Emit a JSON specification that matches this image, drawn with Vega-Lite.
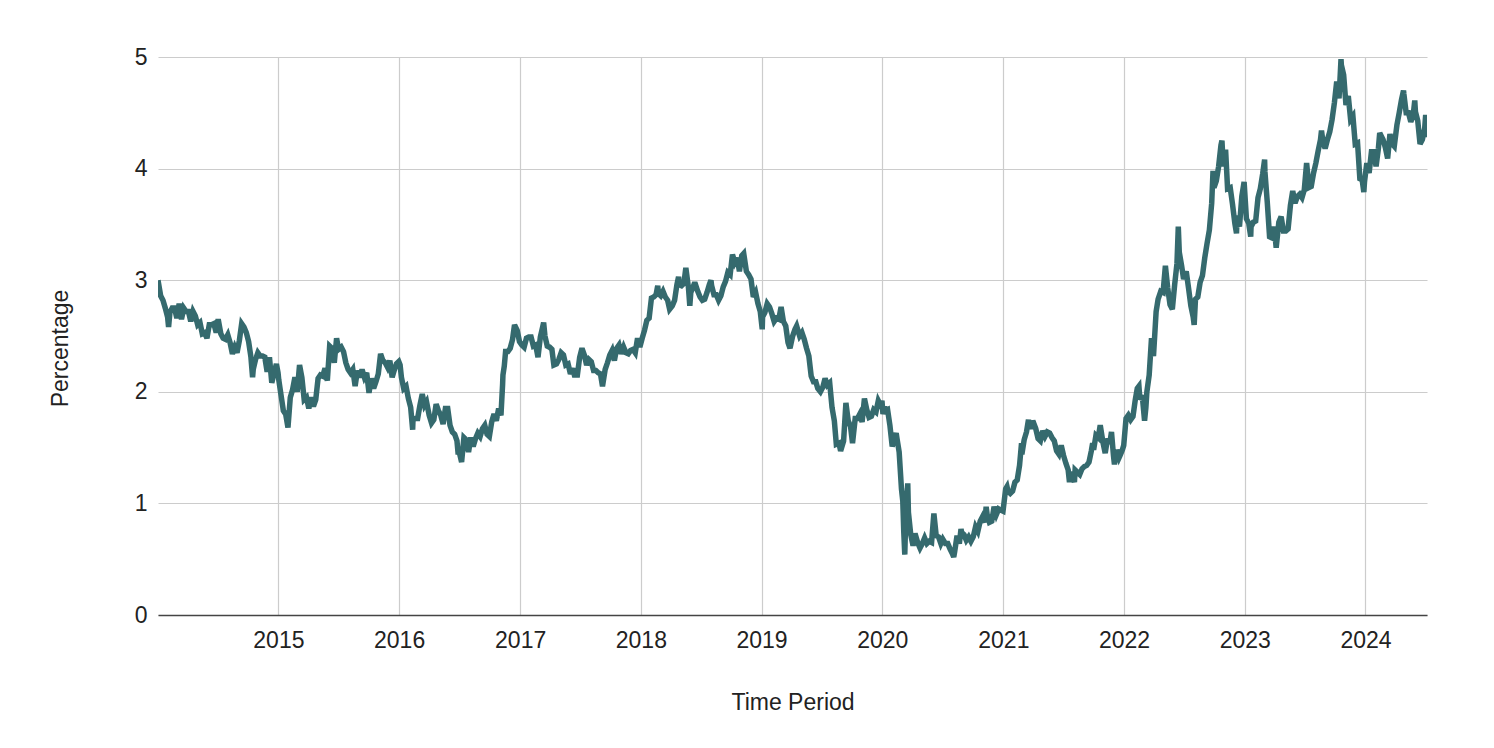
{
  "$schema": "https://vega.github.io/schema/vega-lite/v6.json",
  "width": 1269,
  "height": 558,
  "autosize": {"type": "none"},
  "padding": {"left": 158, "top": 57, "right": 67, "bottom": 133},
  "background": "#ffffff",
  "config": {
    "view": {"stroke": null},
    "font": "Liberation Sans",
    "axis": {"labelFont": "Liberation Sans", "titleFont": "Liberation Sans", "labelColor": "#222222", "titleColor": "#222222", "titleFontWeight": "normal"}
  },
  "data": {"values": [
{"d":"2014-01-02","v":3.00},{"d":"2014-01-10","v":2.86},{"d":"2014-01-17","v":2.82},{"d":"2014-01-24","v":2.75},{"d":"2014-01-31","v":2.67},{"d":"2014-02-03","v":2.58},{"d":"2014-02-07","v":2.71},{"d":"2014-02-14","v":2.75},{"d":"2014-02-21","v":2.75},{"d":"2014-02-28","v":2.66},{"d":"2014-03-07","v":2.79},{"d":"2014-03-14","v":2.65},{"d":"2014-03-21","v":2.75},{"d":"2014-03-28","v":2.72},{"d":"2014-04-04","v":2.72},{"d":"2014-04-11","v":2.63},{"d":"2014-04-18","v":2.72},{"d":"2014-04-25","v":2.68},{"d":"2014-05-02","v":2.60},{"d":"2014-05-09","v":2.62},{"d":"2014-05-16","v":2.52},{"d":"2014-05-23","v":2.53},{"d":"2014-05-30","v":2.48},{"d":"2014-06-06","v":2.60},{"d":"2014-06-13","v":2.60},{"d":"2014-06-20","v":2.61},{"d":"2014-06-27","v":2.53},{"d":"2014-07-03","v":2.65},{"d":"2014-07-11","v":2.52},{"d":"2014-07-18","v":2.48},{"d":"2014-07-25","v":2.47},{"d":"2014-08-01","v":2.51},{"d":"2014-08-08","v":2.44},{"d":"2014-08-15","v":2.34},{"d":"2014-08-22","v":2.40},{"d":"2014-08-29","v":2.35},{"d":"2014-09-05","v":2.46},{"d":"2014-09-12","v":2.61},{"d":"2014-09-19","v":2.58},{"d":"2014-09-26","v":2.53},{"d":"2014-10-03","v":2.45},{"d":"2014-10-10","v":2.31},{"d":"2014-10-15","v":2.13},{"d":"2014-10-17","v":2.20},{"d":"2014-10-24","v":2.29},{"d":"2014-10-31","v":2.35},{"d":"2014-11-07","v":2.32},{"d":"2014-11-14","v":2.32},{"d":"2014-11-21","v":2.31},{"d":"2014-11-28","v":2.18},{"d":"2014-12-05","v":2.31},{"d":"2014-12-12","v":2.08},{"d":"2014-12-19","v":2.17},{"d":"2014-12-26","v":2.25},{"d":"2014-12-31","v":2.17},
{"d":"2015-01-02","v":2.11},{"d":"2015-01-09","v":1.97},{"d":"2015-01-16","v":1.83},{"d":"2015-01-23","v":1.80},{"d":"2015-01-30","v":1.68},{"d":"2015-02-06","v":1.95},{"d":"2015-02-13","v":2.02},{"d":"2015-02-20","v":2.13},{"d":"2015-02-27","v":2.00},{"d":"2015-03-06","v":2.24},{"d":"2015-03-13","v":2.13},{"d":"2015-03-20","v":1.93},{"d":"2015-03-27","v":1.95},{"d":"2015-04-03","v":1.85},{"d":"2015-04-10","v":1.95},{"d":"2015-04-17","v":1.87},{"d":"2015-04-24","v":1.93},{"d":"2015-05-01","v":2.12},{"d":"2015-05-08","v":2.15},{"d":"2015-05-15","v":2.14},{"d":"2015-05-22","v":2.21},{"d":"2015-05-29","v":2.10},{"d":"2015-06-05","v":2.41},{"d":"2015-06-12","v":2.39},{"d":"2015-06-19","v":2.26},{"d":"2015-06-26","v":2.48},{"d":"2015-07-02","v":2.38},{"d":"2015-07-10","v":2.40},{"d":"2015-07-17","v":2.36},{"d":"2015-07-24","v":2.26},{"d":"2015-07-31","v":2.20},{"d":"2015-08-07","v":2.17},{"d":"2015-08-14","v":2.20},{"d":"2015-08-21","v":2.05},{"d":"2015-08-28","v":2.19},{"d":"2015-09-04","v":2.13},{"d":"2015-09-11","v":2.20},{"d":"2015-09-18","v":2.13},{"d":"2015-09-25","v":2.17},{"d":"2015-10-02","v":1.99},{"d":"2015-10-09","v":2.12},{"d":"2015-10-16","v":2.03},{"d":"2015-10-23","v":2.09},{"d":"2015-10-30","v":2.16},{"d":"2015-11-06","v":2.34},{"d":"2015-11-13","v":2.28},{"d":"2015-11-20","v":2.26},{"d":"2015-11-27","v":2.22},{"d":"2015-12-04","v":2.28},{"d":"2015-12-11","v":2.13},{"d":"2015-12-18","v":2.20},{"d":"2015-12-24","v":2.25},{"d":"2015-12-31","v":2.27},
{"d":"2016-01-04","v":2.24},{"d":"2016-01-08","v":2.13},{"d":"2016-01-15","v":2.03},{"d":"2016-01-22","v":2.05},{"d":"2016-01-29","v":1.94},{"d":"2016-02-05","v":1.86},{"d":"2016-02-11","v":1.66},{"d":"2016-02-12","v":1.75},{"d":"2016-02-19","v":1.76},{"d":"2016-02-26","v":1.76},{"d":"2016-03-04","v":1.88},{"d":"2016-03-11","v":1.98},{"d":"2016-03-18","v":1.88},{"d":"2016-03-24","v":1.91},{"d":"2016-04-01","v":1.79},{"d":"2016-04-08","v":1.72},{"d":"2016-04-15","v":1.75},{"d":"2016-04-22","v":1.89},{"d":"2016-04-29","v":1.83},{"d":"2016-05-06","v":1.79},{"d":"2016-05-13","v":1.71},{"d":"2016-05-20","v":1.85},{"d":"2016-05-27","v":1.85},{"d":"2016-06-03","v":1.70},{"d":"2016-06-10","v":1.64},{"d":"2016-06-17","v":1.62},{"d":"2016-06-24","v":1.56},{"d":"2016-06-27","v":1.46},{"d":"2016-07-01","v":1.46},{"d":"2016-07-08","v":1.37},{"d":"2016-07-15","v":1.59},{"d":"2016-07-22","v":1.57},{"d":"2016-07-29","v":1.46},{"d":"2016-08-05","v":1.59},{"d":"2016-08-12","v":1.51},{"d":"2016-08-19","v":1.58},{"d":"2016-08-26","v":1.63},{"d":"2016-09-02","v":1.60},{"d":"2016-09-09","v":1.67},{"d":"2016-09-16","v":1.70},{"d":"2016-09-23","v":1.62},{"d":"2016-09-30","v":1.60},{"d":"2016-10-07","v":1.73},{"d":"2016-10-14","v":1.80},{"d":"2016-10-21","v":1.74},{"d":"2016-10-28","v":1.85},{"d":"2016-11-04","v":1.79},{"d":"2016-11-09","v":2.07},{"d":"2016-11-10","v":2.15},{"d":"2016-11-14","v":2.23},{"d":"2016-11-18","v":2.36},{"d":"2016-11-25","v":2.36},{"d":"2016-12-02","v":2.39},{"d":"2016-12-09","v":2.47},{"d":"2016-12-15","v":2.60},{"d":"2016-12-23","v":2.55},{"d":"2016-12-30","v":2.45},
{"d":"2017-01-06","v":2.42},{"d":"2017-01-13","v":2.40},{"d":"2017-01-20","v":2.48},{"d":"2017-01-27","v":2.49},{"d":"2017-02-03","v":2.49},{"d":"2017-02-10","v":2.41},{"d":"2017-02-17","v":2.42},{"d":"2017-02-24","v":2.31},{"d":"2017-03-03","v":2.49},{"d":"2017-03-10","v":2.58},{"d":"2017-03-13","v":2.62},{"d":"2017-03-17","v":2.50},{"d":"2017-03-24","v":2.41},{"d":"2017-03-31","v":2.40},{"d":"2017-04-07","v":2.38},{"d":"2017-04-13","v":2.24},{"d":"2017-04-21","v":2.25},{"d":"2017-04-28","v":2.29},{"d":"2017-05-05","v":2.35},{"d":"2017-05-12","v":2.33},{"d":"2017-05-19","v":2.24},{"d":"2017-05-26","v":2.25},{"d":"2017-06-02","v":2.16},{"d":"2017-06-09","v":2.21},{"d":"2017-06-14","v":2.15},{"d":"2017-06-23","v":2.15},{"d":"2017-06-30","v":2.31},{"d":"2017-07-07","v":2.39},{"d":"2017-07-14","v":2.33},{"d":"2017-07-21","v":2.24},{"d":"2017-07-28","v":2.29},{"d":"2017-08-04","v":2.27},{"d":"2017-08-11","v":2.19},{"d":"2017-08-18","v":2.19},{"d":"2017-08-25","v":2.17},{"d":"2017-09-01","v":2.16},{"d":"2017-09-07","v":2.05},{"d":"2017-09-15","v":2.20},{"d":"2017-09-22","v":2.26},{"d":"2017-09-29","v":2.33},{"d":"2017-10-06","v":2.37},{"d":"2017-10-13","v":2.28},{"d":"2017-10-20","v":2.39},{"d":"2017-10-27","v":2.42},{"d":"2017-11-03","v":2.34},{"d":"2017-11-10","v":2.40},{"d":"2017-11-17","v":2.35},{"d":"2017-11-24","v":2.34},{"d":"2017-12-01","v":2.37},{"d":"2017-12-08","v":2.38},{"d":"2017-12-15","v":2.35},{"d":"2017-12-22","v":2.48},{"d":"2017-12-29","v":2.40},
{"d":"2018-01-05","v":2.48},{"d":"2018-01-12","v":2.55},{"d":"2018-01-19","v":2.64},{"d":"2018-01-26","v":2.66},{"d":"2018-02-02","v":2.84},{"d":"2018-02-09","v":2.85},{"d":"2018-02-16","v":2.87},{"d":"2018-02-21","v":2.95},{"d":"2018-02-23","v":2.88},{"d":"2018-03-02","v":2.86},{"d":"2018-03-09","v":2.90},{"d":"2018-03-16","v":2.85},{"d":"2018-03-23","v":2.82},{"d":"2018-03-29","v":2.74},{"d":"2018-04-06","v":2.77},{"d":"2018-04-13","v":2.82},{"d":"2018-04-20","v":2.96},{"d":"2018-04-25","v":3.03},{"d":"2018-04-27","v":2.96},{"d":"2018-05-04","v":2.95},{"d":"2018-05-11","v":2.97},{"d":"2018-05-17","v":3.11},{"d":"2018-05-25","v":2.93},{"d":"2018-05-29","v":2.77},{"d":"2018-06-01","v":2.89},{"d":"2018-06-08","v":2.94},{"d":"2018-06-13","v":2.98},{"d":"2018-06-22","v":2.90},{"d":"2018-06-29","v":2.85},{"d":"2018-07-06","v":2.82},{"d":"2018-07-13","v":2.83},{"d":"2018-07-20","v":2.89},{"d":"2018-07-27","v":2.96},{"d":"2018-08-01","v":3.00},{"d":"2018-08-03","v":2.95},{"d":"2018-08-10","v":2.87},{"d":"2018-08-17","v":2.87},{"d":"2018-08-24","v":2.82},{"d":"2018-08-31","v":2.86},{"d":"2018-09-07","v":2.94},{"d":"2018-09-14","v":2.99},{"d":"2018-09-21","v":3.07},{"d":"2018-09-28","v":3.05},{"d":"2018-10-05","v":3.23},{"d":"2018-10-12","v":3.16},{"d":"2018-10-19","v":3.20},{"d":"2018-10-26","v":3.08},{"d":"2018-11-02","v":3.22},{"d":"2018-11-08","v":3.24},{"d":"2018-11-16","v":3.08},{"d":"2018-11-23","v":3.05},{"d":"2018-11-30","v":3.01},{"d":"2018-12-07","v":2.85},{"d":"2018-12-14","v":2.89},{"d":"2018-12-21","v":2.79},{"d":"2018-12-28","v":2.72},
{"d":"2019-01-03","v":2.56},{"d":"2019-01-04","v":2.67},{"d":"2019-01-11","v":2.71},{"d":"2019-01-18","v":2.79},{"d":"2019-01-25","v":2.76},{"d":"2019-02-01","v":2.70},{"d":"2019-02-08","v":2.63},{"d":"2019-02-15","v":2.66},{"d":"2019-02-22","v":2.65},{"d":"2019-03-01","v":2.76},{"d":"2019-03-08","v":2.63},{"d":"2019-03-15","v":2.59},{"d":"2019-03-22","v":2.44},{"d":"2019-03-28","v":2.39},{"d":"2019-04-05","v":2.50},{"d":"2019-04-12","v":2.56},{"d":"2019-04-17","v":2.59},{"d":"2019-04-26","v":2.50},{"d":"2019-05-03","v":2.53},{"d":"2019-05-10","v":2.47},{"d":"2019-05-17","v":2.39},{"d":"2019-05-24","v":2.32},{"d":"2019-05-31","v":2.14},{"d":"2019-06-07","v":2.09},{"d":"2019-06-14","v":2.09},{"d":"2019-06-20","v":2.03},{"d":"2019-06-28","v":2.00},{"d":"2019-07-05","v":2.04},{"d":"2019-07-12","v":2.12},{"d":"2019-07-19","v":2.06},{"d":"2019-07-26","v":2.08},{"d":"2019-08-02","v":1.86},{"d":"2019-08-09","v":1.74},{"d":"2019-08-15","v":1.53},{"d":"2019-08-23","v":1.54},{"d":"2019-08-28","v":1.47},{"d":"2019-09-06","v":1.56},{"d":"2019-09-13","v":1.90},{"d":"2019-09-20","v":1.74},{"d":"2019-09-27","v":1.69},{"d":"2019-10-03","v":1.54},{"d":"2019-10-11","v":1.76},{"d":"2019-10-18","v":1.76},{"d":"2019-10-25","v":1.80},{"d":"2019-11-01","v":1.73},{"d":"2019-11-08","v":1.94},{"d":"2019-11-15","v":1.84},{"d":"2019-11-22","v":1.77},{"d":"2019-11-29","v":1.78},{"d":"2019-12-06","v":1.84},{"d":"2019-12-13","v":1.82},{"d":"2019-12-20","v":1.92},{"d":"2019-12-27","v":1.88},{"d":"2019-12-31","v":1.92},
{"d":"2020-01-03","v":1.80},{"d":"2020-01-08","v":1.87},{"d":"2020-01-10","v":1.83},{"d":"2020-01-17","v":1.84},{"d":"2020-01-24","v":1.70},{"d":"2020-01-31","v":1.51},{"d":"2020-02-07","v":1.59},{"d":"2020-02-12","v":1.63},{"d":"2020-02-14","v":1.59},{"d":"2020-02-21","v":1.46},{"d":"2020-02-28","v":1.13},{"d":"2020-03-03","v":1.02},{"d":"2020-03-06","v":0.74},{"d":"2020-03-09","v":0.54},{"d":"2020-03-12","v":0.88},{"d":"2020-03-18","v":1.18},{"d":"2020-03-20","v":0.92},{"d":"2020-03-27","v":0.72},{"d":"2020-04-03","v":0.62},{"d":"2020-04-09","v":0.73},{"d":"2020-04-17","v":0.65},{"d":"2020-04-24","v":0.60},{"d":"2020-05-01","v":0.64},{"d":"2020-05-08","v":0.69},{"d":"2020-05-15","v":0.64},{"d":"2020-05-22","v":0.66},{"d":"2020-05-29","v":0.65},{"d":"2020-06-05","v":0.91},{"d":"2020-06-12","v":0.71},{"d":"2020-06-19","v":0.70},{"d":"2020-06-26","v":0.64},{"d":"2020-07-02","v":0.68},{"d":"2020-07-10","v":0.64},{"d":"2020-07-17","v":0.64},{"d":"2020-07-24","v":0.59},{"d":"2020-07-31","v":0.55},{"d":"2020-08-04","v":0.52},{"d":"2020-08-07","v":0.57},{"d":"2020-08-14","v":0.71},{"d":"2020-08-21","v":0.64},{"d":"2020-08-26","v":0.77},{"d":"2020-08-28","v":0.74},{"d":"2020-09-04","v":0.72},{"d":"2020-09-11","v":0.67},{"d":"2020-09-18","v":0.70},{"d":"2020-09-25","v":0.66},{"d":"2020-10-02","v":0.70},{"d":"2020-10-09","v":0.79},{"d":"2020-10-16","v":0.75},{"d":"2020-10-23","v":0.84},{"d":"2020-10-30","v":0.88},{"d":"2020-11-06","v":0.83},{"d":"2020-11-10","v":0.97},{"d":"2020-11-13","v":0.90},{"d":"2020-11-20","v":0.83},{"d":"2020-11-27","v":0.84},{"d":"2020-12-04","v":0.97},{"d":"2020-12-11","v":0.90},{"d":"2020-12-18","v":0.95},{"d":"2020-12-24","v":0.94},{"d":"2020-12-31","v":0.93},
{"d":"2021-01-08","v":1.13},{"d":"2021-01-12","v":1.15},{"d":"2021-01-15","v":1.11},{"d":"2021-01-22","v":1.09},{"d":"2021-01-29","v":1.11},{"d":"2021-02-05","v":1.19},{"d":"2021-02-12","v":1.21},{"d":"2021-02-19","v":1.34},{"d":"2021-02-25","v":1.54},{"d":"2021-02-26","v":1.44},{"d":"2021-03-05","v":1.57},{"d":"2021-03-12","v":1.64},{"d":"2021-03-18","v":1.75},{"d":"2021-03-19","v":1.72},{"d":"2021-03-26","v":1.67},{"d":"2021-03-31","v":1.74},{"d":"2021-04-09","v":1.67},{"d":"2021-04-16","v":1.58},{"d":"2021-04-23","v":1.56},{"d":"2021-04-30","v":1.65},{"d":"2021-05-07","v":1.60},{"d":"2021-05-14","v":1.64},{"d":"2021-05-21","v":1.63},{"d":"2021-05-28","v":1.59},{"d":"2021-06-04","v":1.56},{"d":"2021-06-11","v":1.47},{"d":"2021-06-18","v":1.44},{"d":"2021-06-25","v":1.52},{"d":"2021-07-02","v":1.43},{"d":"2021-07-09","v":1.36},{"d":"2021-07-16","v":1.30},{"d":"2021-07-20","v":1.19},{"d":"2021-07-23","v":1.28},{"d":"2021-07-30","v":1.24},{"d":"2021-08-04","v":1.19},{"d":"2021-08-06","v":1.30},{"d":"2021-08-13","v":1.28},{"d":"2021-08-20","v":1.26},{"d":"2021-08-27","v":1.31},{"d":"2021-09-03","v":1.33},{"d":"2021-09-10","v":1.34},{"d":"2021-09-17","v":1.37},{"d":"2021-09-24","v":1.47},{"d":"2021-09-28","v":1.54},{"d":"2021-10-01","v":1.48},{"d":"2021-10-08","v":1.61},{"d":"2021-10-15","v":1.59},{"d":"2021-10-21","v":1.70},{"d":"2021-10-29","v":1.55},{"d":"2021-11-05","v":1.45},{"d":"2021-11-12","v":1.58},{"d":"2021-11-19","v":1.54},{"d":"2021-11-24","v":1.64},{"d":"2021-11-30","v":1.43},{"d":"2021-12-03","v":1.35},{"d":"2021-12-10","v":1.48},{"d":"2021-12-17","v":1.41},{"d":"2021-12-20","v":1.43},{"d":"2021-12-27","v":1.48},{"d":"2021-12-31","v":1.52},
{"d":"2022-01-07","v":1.76},{"d":"2022-01-14","v":1.79},{"d":"2022-01-21","v":1.75},{"d":"2022-01-28","v":1.78},{"d":"2022-02-04","v":1.93},{"d":"2022-02-10","v":2.03},{"d":"2022-02-15","v":2.05},{"d":"2022-02-18","v":1.93},{"d":"2022-02-25","v":1.97},{"d":"2022-03-04","v":1.74},{"d":"2022-03-08","v":1.86},{"d":"2022-03-11","v":2.00},{"d":"2022-03-18","v":2.15},{"d":"2022-03-25","v":2.48},{"d":"2022-03-31","v":2.32},{"d":"2022-04-08","v":2.72},{"d":"2022-04-14","v":2.83},{"d":"2022-04-22","v":2.90},{"d":"2022-04-29","v":2.89},{"d":"2022-05-06","v":3.13},{"d":"2022-05-13","v":2.93},{"d":"2022-05-20","v":2.78},{"d":"2022-05-27","v":2.74},{"d":"2022-06-03","v":2.96},{"d":"2022-06-10","v":3.15},{"d":"2022-06-14","v":3.48},{"d":"2022-06-17","v":3.25},{"d":"2022-06-24","v":3.13},{"d":"2022-06-30","v":3.01},{"d":"2022-07-08","v":3.08},{"d":"2022-07-15","v":2.93},{"d":"2022-07-22","v":2.77},{"d":"2022-07-29","v":2.67},{"d":"2022-08-01","v":2.60},{"d":"2022-08-05","v":2.83},{"d":"2022-08-12","v":2.85},{"d":"2022-08-19","v":2.98},{"d":"2022-08-26","v":3.04},{"d":"2022-09-02","v":3.20},{"d":"2022-09-09","v":3.33},{"d":"2022-09-16","v":3.45},{"d":"2022-09-23","v":3.69},{"d":"2022-09-27","v":3.98},{"d":"2022-09-30","v":3.83},{"d":"2022-10-07","v":3.89},{"d":"2022-10-14","v":4.02},{"d":"2022-10-21","v":4.21},{"d":"2022-10-24","v":4.25},{"d":"2022-10-28","v":4.02},{"d":"2022-11-04","v":4.17},{"d":"2022-11-10","v":3.82},{"d":"2022-11-18","v":3.83},{"d":"2022-11-25","v":3.68},{"d":"2022-12-02","v":3.51},{"d":"2022-12-07","v":3.42},{"d":"2022-12-09","v":3.58},{"d":"2022-12-16","v":3.48},{"d":"2022-12-23","v":3.75},{"d":"2022-12-30","v":3.88},
{"d":"2023-01-06","v":3.55},{"d":"2023-01-13","v":3.51},{"d":"2023-01-19","v":3.39},{"d":"2023-01-20","v":3.48},{"d":"2023-01-27","v":3.52},{"d":"2023-02-03","v":3.53},{"d":"2023-02-10","v":3.74},{"d":"2023-02-17","v":3.82},{"d":"2023-02-24","v":3.95},{"d":"2023-03-02","v":4.08},{"d":"2023-03-03","v":3.97},{"d":"2023-03-10","v":3.70},{"d":"2023-03-17","v":3.39},{"d":"2023-03-24","v":3.38},{"d":"2023-03-31","v":3.48},{"d":"2023-04-06","v":3.29},{"d":"2023-04-14","v":3.52},{"d":"2023-04-21","v":3.57},{"d":"2023-04-28","v":3.44},{"d":"2023-05-05","v":3.44},{"d":"2023-05-12","v":3.46},{"d":"2023-05-19","v":3.67},{"d":"2023-05-26","v":3.80},{"d":"2023-06-02","v":3.69},{"d":"2023-06-09","v":3.75},{"d":"2023-06-16","v":3.77},{"d":"2023-06-23","v":3.74},{"d":"2023-06-30","v":3.81},{"d":"2023-07-07","v":4.05},{"d":"2023-07-14","v":3.83},{"d":"2023-07-21","v":3.84},{"d":"2023-07-28","v":3.96},{"d":"2023-08-04","v":4.05},{"d":"2023-08-11","v":4.16},{"d":"2023-08-18","v":4.26},{"d":"2023-08-21","v":4.34},{"d":"2023-08-25","v":4.25},{"d":"2023-09-01","v":4.18},{"d":"2023-09-08","v":4.26},{"d":"2023-09-15","v":4.33},{"d":"2023-09-22","v":4.44},{"d":"2023-09-29","v":4.59},{"d":"2023-10-06","v":4.78},{"d":"2023-10-13","v":4.63},{"d":"2023-10-19","v":4.98},{"d":"2023-10-20","v":4.93},{"d":"2023-10-27","v":4.84},{"d":"2023-11-03","v":4.57},{"d":"2023-11-10","v":4.65},{"d":"2023-11-17","v":4.44},{"d":"2023-11-24","v":4.47},{"d":"2023-12-01","v":4.22},{"d":"2023-12-08","v":4.23},{"d":"2023-12-15","v":3.91},{"d":"2023-12-22","v":3.90},{"d":"2023-12-27","v":3.79},{"d":"2023-12-29","v":3.88},
{"d":"2024-01-05","v":4.05},{"d":"2024-01-12","v":3.96},{"d":"2024-01-19","v":4.15},{"d":"2024-01-26","v":4.15},{"d":"2024-02-02","v":4.02},{"d":"2024-02-09","v":4.18},{"d":"2024-02-13","v":4.32},{"d":"2024-02-16","v":4.30},{"d":"2024-02-23","v":4.26},{"d":"2024-03-01","v":4.19},{"d":"2024-03-08","v":4.09},{"d":"2024-03-15","v":4.31},{"d":"2024-03-22","v":4.22},{"d":"2024-03-28","v":4.20},{"d":"2024-04-05","v":4.39},{"d":"2024-04-12","v":4.50},{"d":"2024-04-19","v":4.62},{"d":"2024-04-25","v":4.70},{"d":"2024-04-26","v":4.67},{"d":"2024-05-03","v":4.50},{"d":"2024-05-10","v":4.50},{"d":"2024-05-17","v":4.42},{"d":"2024-05-24","v":4.47},{"d":"2024-05-29","v":4.61},{"d":"2024-05-31","v":4.51},{"d":"2024-06-07","v":4.43},{"d":"2024-06-14","v":4.22},{"d":"2024-06-21","v":4.26},{"d":"2024-06-28","v":4.36},{"d":"2024-07-01","v":4.48},{"d":"2024-07-05","v":4.28}
  ]},
  "mark": {"type": "line", "color": "#356a6e", "strokeWidth": 5.5, "strokeJoin": "miter", "strokeMiterLimit": 3, "clip": true},
  "encoding": {
    "x": {
      "field": "d", "type": "temporal",
      "scale": {"type": "utc", "nice": false},
      "axis": {
        "title": "Time Period", "format": "%Y", "tickCount": {"interval": "year", "step": 1},
        "ticks": false, "grid": true, "gridColor": "#cccccc", "gridWidth": 1.2,
        "domain": true, "domainColor": "#444444", "domainWidth": 1.6,
        "labelFontSize": 23, "labelPadding": 14, "labelFlush": false,
        "titleFontSize": 23, "titleBaseline": "alphabetic", "titleY": 94
      }
    },
    "y": {
      "field": "v", "type": "quantitative",
      "scale": {"domain": [0, 5], "nice": false, "zero": true},
      "axis": {
        "title": "Percentage", "values": [0, 1, 2, 3, 4, 5], "format": "d",
        "ticks": false, "grid": true, "gridColor": "#cccccc", "gridWidth": 1.2,
        "domain": false, "labelFontSize": 23, "labelPadding": 11,
        "titleFontSize": 23, "titleBaseline": "alphabetic", "titleX": -91, "titleY": 291, "titleAngle": 270
      }
    }
  }
}
